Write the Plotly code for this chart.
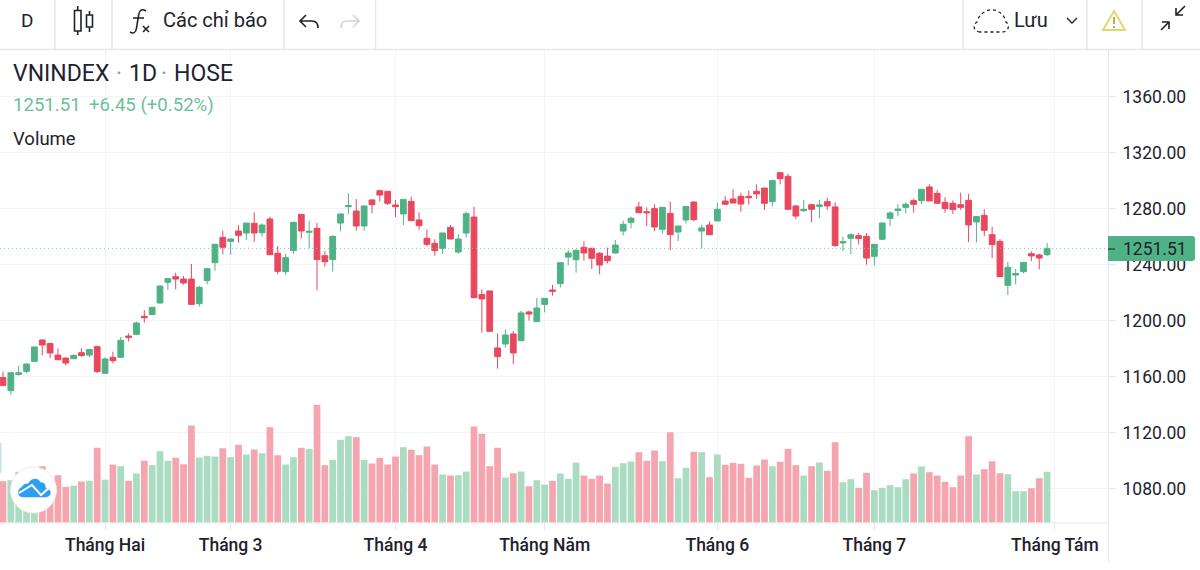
import re
import plotly.graph_objects as go

W, H = 1200, 570
GREEN = '#4fb286'
RED = '#e8485f'
GREEN_VOL = '#a9dcc1'
RED_VOL = '#f4a5b0'
TEXT = '#1e222d'
LINE = '#e6e7ee'
GRID = '#f3f4f6'

month_labels = ['Tháng Hai', 'Tháng 3', 'Tháng 4', 'Tháng Năm', 'Tháng 6', 'Tháng 7', 'Tháng Tám']
month_index = [13, 29, 50, 69, 91, 111, 134]

opens = [1159.2, 1149.9, 1161.5, 1163.7, 1170.8, 1186.1, 1183.5, 1175.3, 1173.2, 1172.7,
         1177.0, 1175.3, 1181.3, 1162.3, 1173.7, 1173.7, 1188.9, 1190.1, 1203.0, 1204.2,
         1212.5, 1227.3, 1231.3, 1229.6, 1229.6, 1212.0, 1228.5, 1241.3, 1259.4, 1256.5,
         1263.9, 1262.5, 1269.4, 1262.7, 1272.5, 1248.0, 1234.9, 1249.9, 1275.8, 1263.0,
         1265.8, 1246.3, 1243.5, 1269.6, 1281.3, 1278.2, 1267.5, 1286.1, 1292.7, 1292.3,
         1282.5, 1276.1, 1285.1, 1271.8, 1258.7, 1255.1, 1251.5, 1266.5, 1248.9, 1262.5,
         1273.9, 1218.5, 1221.1, 1180.4, 1183.2, 1190.4, 1185.6, 1206.1, 1199.2, 1211.5,
         1221.8, 1226.3, 1245.3, 1243.4, 1252.3, 1251.5, 1248.0, 1246.0, 1248.2, 1263.9,
         1270.1, 1281.1, 1277.7, 1279.9, 1265.1, 1276.5, 1263.2, 1271.8, 1284.6, 1263.9,
         1268.2, 1271.1, 1285.3, 1286.8, 1288.7, 1288.7, 1292.3, 1294.6, 1284.9, 1305.6,
         1303.0, 1281.8, 1278.4, 1282.7, 1281.5, 1284.9, 1281.1, 1255.4, 1258.7, 1260.6,
         1260.1, 1245.8, 1258.0, 1273.0, 1278.5, 1280.8, 1285.6, 1285.6, 1295.4, 1290.8,
         1284.4, 1283.7, 1282.7, 1285.8, 1270.4, 1275.1, 1261.3, 1256.5, 1225.1, 1232.5,
         1234.9, 1247.7, 1246.8, 1247.0]
highs = [1163.5, 1162.7, 1167.7, 1169.3, 1181.1, 1186.3, 1184.2, 1180.1, 1173.5, 1175.8,
         1180.1, 1179.6, 1182.2, 1173.7, 1177.7, 1188.2, 1190.8, 1199.2, 1207.3, 1209.6,
         1225.1, 1230.1, 1234.2, 1231.8, 1240.4, 1224.6, 1237.3, 1254.4, 1264.2, 1258.5,
         1268.0, 1269.6, 1277.3, 1269.4, 1274.2, 1253.2, 1247.5, 1270.6, 1275.8, 1271.3,
         1269.6, 1249.4, 1260.8, 1276.1, 1290.8, 1286.8, 1282.3, 1286.5, 1293.5, 1292.5,
         1286.1, 1286.8, 1288.5, 1277.3, 1264.9, 1258.0, 1262.7, 1268.2, 1261.8, 1277.7,
         1281.3, 1222.3, 1221.1, 1190.8, 1193.7, 1192.5, 1207.0, 1207.0, 1216.0, 1215.9,
         1225.4, 1241.3, 1250.4, 1250.8, 1256.5, 1252.0, 1248.9, 1252.0, 1257.5, 1271.3,
         1274.2, 1284.9, 1280.8, 1283.0, 1280.8, 1284.9, 1267.5, 1281.5, 1285.1, 1268.4,
         1270.8, 1284.2, 1288.9, 1293.7, 1291.3, 1292.7, 1297.2, 1294.6, 1300.6, 1305.6,
         1304.9, 1282.5, 1286.0, 1283.4, 1286.1, 1287.7, 1284.4, 1259.9, 1262.3, 1262.5,
         1262.5, 1254.4, 1270.1, 1278.0, 1283.0, 1284.4, 1287.0, 1293.7, 1297.3, 1293.2,
         1288.0, 1285.8, 1291.3, 1290.4, 1274.2, 1279.4, 1267.0, 1258.2, 1242.0, 1236.8,
         1241.5, 1249.4, 1247.7, 1255.4]
lows = [1153.5, 1147.0, 1160.6, 1162.3, 1170.5, 1175.1, 1173.2, 1171.5, 1167.7, 1172.5,
        1174.2, 1173.7, 1162.5, 1161.8, 1169.4, 1173.2, 1185.1, 1189.9, 1198.4, 1203.9,
        1212.0, 1222.0, 1222.3, 1225.6, 1211.3, 1209.9, 1225.8, 1235.6, 1247.3, 1247.0,
        1255.8, 1257.5, 1256.1, 1259.9, 1247.0, 1233.0, 1232.7, 1247.7, 1258.5, 1251.5,
        1221.5, 1238.5, 1234.9, 1263.7, 1276.1, 1264.2, 1264.2, 1276.5, 1284.9, 1282.5,
        1273.9, 1268.2, 1271.1, 1264.9, 1253.0, 1246.3, 1247.5, 1258.0, 1247.7, 1259.2,
        1216.3, 1191.3, 1192.3, 1165.6, 1180.8, 1168.9, 1185.1, 1199.9, 1198.9, 1205.8,
        1217.7, 1223.7, 1239.4, 1234.2, 1242.7, 1236.8, 1233.0, 1240.8, 1248.0, 1260.8,
        1265.8, 1277.0, 1267.3, 1263.7, 1262.0, 1250.1, 1256.8, 1269.2, 1270.8, 1251.5,
        1261.1, 1271.1, 1282.5, 1283.9, 1277.7, 1282.7, 1286.8, 1278.9, 1281.3, 1297.2,
        1279.4, 1272.3, 1277.7, 1270.1, 1273.0, 1278.9, 1252.5, 1249.6, 1247.3, 1254.4,
        1239.9, 1239.4, 1257.5, 1267.5, 1274.4, 1276.5, 1277.0, 1283.2, 1285.4, 1283.7,
        1277.0, 1276.1, 1278.9, 1256.1, 1255.8, 1260.4, 1244.6, 1231.3, 1218.2, 1225.8,
        1233.7, 1242.5, 1236.5, 1246.1]
closes = [1153.5, 1162.7, 1162.7, 1168.9, 1181.1, 1182.5, 1176.8, 1172.0, 1169.6, 1175.1,
          1174.9, 1179.2, 1163.5, 1172.5, 1171.3, 1185.8, 1188.0, 1198.2, 1202.0, 1209.4,
          1224.6, 1229.9, 1229.6, 1226.8, 1211.5, 1223.7, 1237.0, 1254.4, 1252.3, 1258.2,
          1260.8, 1269.6, 1262.5, 1268.2, 1247.0, 1235.1, 1244.9, 1270.1, 1263.9, 1263.7,
          1243.5, 1242.0, 1260.1, 1276.1, 1282.0, 1267.5, 1281.8, 1282.7, 1289.6, 1283.7,
          1281.3, 1286.5, 1271.3, 1267.7, 1254.4, 1249.9, 1262.5, 1258.2, 1258.2, 1276.3,
          1216.3, 1215.4, 1192.3, 1174.2, 1189.6, 1176.8, 1205.4, 1204.6, 1208.9, 1215.8,
          1220.8, 1241.3, 1248.2, 1250.1, 1248.2, 1244.4, 1239.6, 1242.7, 1253.9, 1268.7,
          1273.0, 1277.0, 1277.0, 1266.8, 1280.8, 1261.3, 1267.5, 1281.5, 1272.0, 1266.1,
          1261.3, 1279.4, 1283.0, 1283.9, 1283.2, 1287.7, 1290.4, 1283.7, 1299.9, 1301.3,
          1279.4, 1274.6, 1279.4, 1279.4, 1282.5, 1281.8, 1253.5, 1256.3, 1261.3, 1258.5,
          1244.6, 1254.4, 1269.6, 1276.8, 1279.6, 1283.0, 1283.0, 1293.7, 1285.4, 1283.7,
          1279.9, 1279.2, 1280.8, 1268.2, 1274.2, 1264.4, 1254.2, 1231.3, 1238.0, 1233.5,
          1241.5, 1246.1, 1244.6, 1251.51]
volumes = [41.3, 42.3, 50.7, 44.0, 40.7, 56.3, 42.3, 47.3, 35.7, 36.7, 41.0, 41.7, 74.7, 42.7,
           58.0, 56.3, 41.7, 49.0, 61.7, 57.3, 71.3, 61.7, 64.7, 58.3, 97.0, 65.0, 66.7, 66.0,
           74.3, 65.3, 77.7, 68.0, 73.0, 69.3, 95.3, 67.3, 58.0, 65.3, 74.7, 73.7, 117.7, 57.3,
           62.7, 82.7, 86.3, 85.3, 62.7, 59.0, 64.7, 58.0, 66.0, 75.3, 72.7, 67.3, 76.0, 58.0,
           48.0, 47.0, 47.3, 51.0, 96.0, 88.7, 56.3, 74.7, 45.0, 49.3, 51.0, 36.3, 42.3, 38.0,
           41.7, 49.0, 43.7, 60.0, 47.0, 43.7, 47.0, 39.0, 55.7, 59.3, 61.0, 70.3, 61.7, 72.0,
           61.3, 90.3, 44.3, 54.7, 70.7, 70.3, 45.3, 68.0, 57.7, 59.7, 58.7, 44.7, 57.0, 63.0,
           56.3, 60.7, 73.7, 57.3, 47.0, 56.3, 60.0, 51.7, 80.3, 40.3, 43.3, 34.7, 49.7, 32.3,
           34.7, 37.3, 35.3, 43.3, 49.0, 56.0, 50.3, 47.0, 40.7, 35.3, 47.0, 86.3, 48.0, 53.3,
           61.3, 49.3, 48.3, 31.3, 31.3, 34.3, 44.3, 50.7]
sessions = list(range(len(closes)))
last_close = closes[-1]


def to_paper(path):
    # toolbar and logo icons are sketched in screen pixels, shapes want paper units
    out, is_x = [], True
    for tok in re.findall(r'[MLCQZ]|-?[\d.]+', path):
        if tok.isalpha():
            out.append(tok)
            is_x = True
        else:
            out.append(str(float(tok) / W if is_x else 1 - float(tok) / H))
            is_x = not is_x
    return ' '.join(out)


def icon(path, color=TEXT, width=1.6, fill=None, dash=None):
    return dict(type='path', xref='paper', yref='paper', path=to_paper(path), layer='above',
                fillcolor=fill, line=dict(color=color, width=width, dash=dash))


def label(x, y, text, size, color=TEXT, anchor='left', family='Roboto'):
    return dict(x=x / W, y=1 - y / H, xref='paper', yref='paper', text=text, showarrow=False,
                xanchor=anchor, yanchor='middle', font=dict(family=family, size=size, color=color))


vol_colors = [GREEN_VOL if c >= o else RED_VOL for o, c in zip(opens, closes)]

fig = go.Figure()
fig.add_trace(go.Candlestick(x=sessions, open=opens, high=highs, low=lows, close=closes,
                             increasing=dict(line=dict(color=GREEN, width=1), fillcolor=GREEN),
                             decreasing=dict(line=dict(color=RED, width=1), fillcolor=RED),
                             whiskerwidth=0, showlegend=False))
fig.add_trace(go.Bar(x=sessions, y=volumes, yaxis='y2', width=0.86, marker=dict(color=vol_colors, line_width=0),
                     showlegend=False))

shapes = [
    # frame of the chart
    dict(type='line', xref='paper', yref='paper', x0=0, x1=1, y0=1 - 49.5 / H, y1=1 - 49.5 / H, layer='above',
         line=dict(color=LINE, width=1.5)),
    dict(type='line', xref='paper', yref='paper', x0=0, x1=1108 / W, y0=1 - 523 / H, y1=1 - 523 / H, layer='above',
         line=dict(color=LINE, width=1)),
    dict(type='line', xref='paper', yref='paper', x0=1108.5 / W, x1=1108.5 / W, y0=1 - 50 / H, y1=1 - 563 / H,
         layer='above', line=dict(color=LINE, width=1)),
    # last price line
    dict(type='line', xref='paper', yref='y', x0=0, x1=1108 / W, y0=last_close, y1=last_close, layer='above',
         line=dict(color='#7cc8a6', width=1, dash='1px,3px')),
    icon('M 1108 236 L 1192 236 C 1194 236 1195 237 1195 239 L 1195 258 C 1195 260 1194 261 1192 261 L 1108 261 Z',
         color=GREEN, width=0, fill=GREEN),
    icon('M 1108 249 L 1115 249', color=TEXT, width=1),
    # candle icon
    icon('M 74.5 10.5 L 81 10.5 L 81 31 L 74.5 31 Z M 77.7 6 L 77.7 10.5 M 77.7 31 L 77.7 35'),
    icon('M 86.5 15 L 92.5 15 L 92.5 27 L 86.5 27 Z M 89.5 11 L 89.5 15 M 89.5 27 L 89.5 32'),
    # f(x)
    icon('M 146 11 C 141 8 139 11 138.5 16 L 136.5 28 C 136 33 133 34 130 32 M 133 18 L 144 18'),
    icon('M 143 26 L 149 32 M 149 26 L 143 32'),
    # undo, redo
    icon('M 306 15 L 300 21 L 306 27 M 300 21 L 312 21 C 316 21 318 24 318 28'),
    icon('M 353 15 L 359 21 L 353 27 M 359 21 L 347 21 C 343 21 341 24 341 28', color='#d1d4dc'),
    # save, warning, collapse
    icon('M 980 32 C 974 32 972 25 977 22 C 979 13 990 6 999 12 C 1003 14 1005 18 1006 22 C 1010 25 1009 32 1002 32 Z',
         width=1.3, dash='3px,3px'),
    icon('M 1067 18 L 1072 23 L 1077 18', width=1.4),
    icon('M 1114 11 L 1125 30 L 1103 30 Z', color='#e3d772', width=2),
    icon('M 1114 17 L 1114 24 M 1114 26 L 1114 28', color='#b0a43c', width=1.8),
    icon('M 1161 30 L 1169 22 M 1162 22 L 1169 22 L 1169 29'),
    icon('M 1185 6 L 1176 15 M 1176 8 L 1176 15 L 1183 15'),
    # logo
    dict(type='circle', xref='paper', yref='paper', x0=10.5 / W, x1=56.5 / W, y0=1 - 513 / H, y1=1 - 467 / H,
         layer='above', fillcolor='white', line=dict(color='#ececec', width=1)),
    icon('M 23 497 C 17 497 17 489 22 487 C 24 483 27 484 28 484 C 31 478 38 477 41 483 C 44 482 46 485 45 488 '
         'C 52 488 52 497 46 497 Z', color='#2d9fee', width=0.5, fill='#2d9fee'),
    icon('M 19 493 L 32 485 L 41 495 L 50 487', color='white', width=2),
    dict(type='rect', xref='paper', yref='paper', x0=0, x1=1.5 / W, y0=1 - 473 / H, y1=1 - 443 / H,
         layer='above', fillcolor='#c4e2ef', line_width=0),
]
shapes += [dict(type='line', xref='paper', yref='paper', x0=x / W, x1=x / W, y0=1 - 49 / H, y1=1,
                layer='above', line=dict(color=LINE, width=1.5))
           for x in [55, 112, 284, 375.5, 963, 1087, 1142]]

annotations = [
    label(19, 20, 'D', 19),
    label(161, 20, 'Các chỉ báo', 20),
    label(1012, 20, 'Lưu', 20),
    label(11, 74, 'VNINDEX', 23),
    label(114, 74, '·', 23, color='#9598a1'),
    label(127, 74, '1D', 23),
    label(159, 74, '·', 23, color='#9598a1'),
    label(172, 74, 'HOSE', 23),
    label(11, 105, '1251.51', 18.6, color='#6cc09a'),
    label(87, 105, '+6.45 (+0.52%)', 18.6, color='#6cc09a'),
    label(11, 139, 'Volume', 18.5),
    label(1121, 249, f'{last_close:.2f}', 17.5),
]

fig.update_layout(
    width=W, height=H, margin=dict(l=0, r=0, t=0, b=0),
    paper_bgcolor='white', plot_bgcolor='white', boxgap=0.08, boxgroupgap=0.2, bargap=0.14,
    hovermode=False, dragmode=False,
    xaxis=dict(domain=[0, 1108 / W], range=[-0.382, 140.76], rangeslider=dict(visible=False),
               tickmode='array', tickvals=month_index, ticktext=month_labels,
               ticks='outside', ticklen=6, tickcolor=LINE, showgrid=True, gridcolor=GRID, zeroline=False,
               tickfont=dict(family='Roboto', size=17.5, color=TEXT, weight=500)),
    yaxis=dict(domain=[47 / H, 520 / H], range=[1055.36, 1393.2], side='right', tick0=1080, dtick=40,
               tickformat='.2f', ticks='outside', ticklen=7, tickcolor=LINE, showgrid=True, gridcolor=GRID,
               zeroline=False, ticklabelstandoff=3, tickfont=dict(family='Roboto', size=17.5, color=TEXT)),
    yaxis2=dict(domain=[47 / H, 520 / H], overlaying='y', range=[-0.5, 472.5], visible=False),
    shapes=shapes, annotations=annotations,
)

# the page's default body margin would push the chart 8px off
fig.write_html("out.html", config={'displayModeBar': False}, post_script="document.body.style.margin = '0';")
